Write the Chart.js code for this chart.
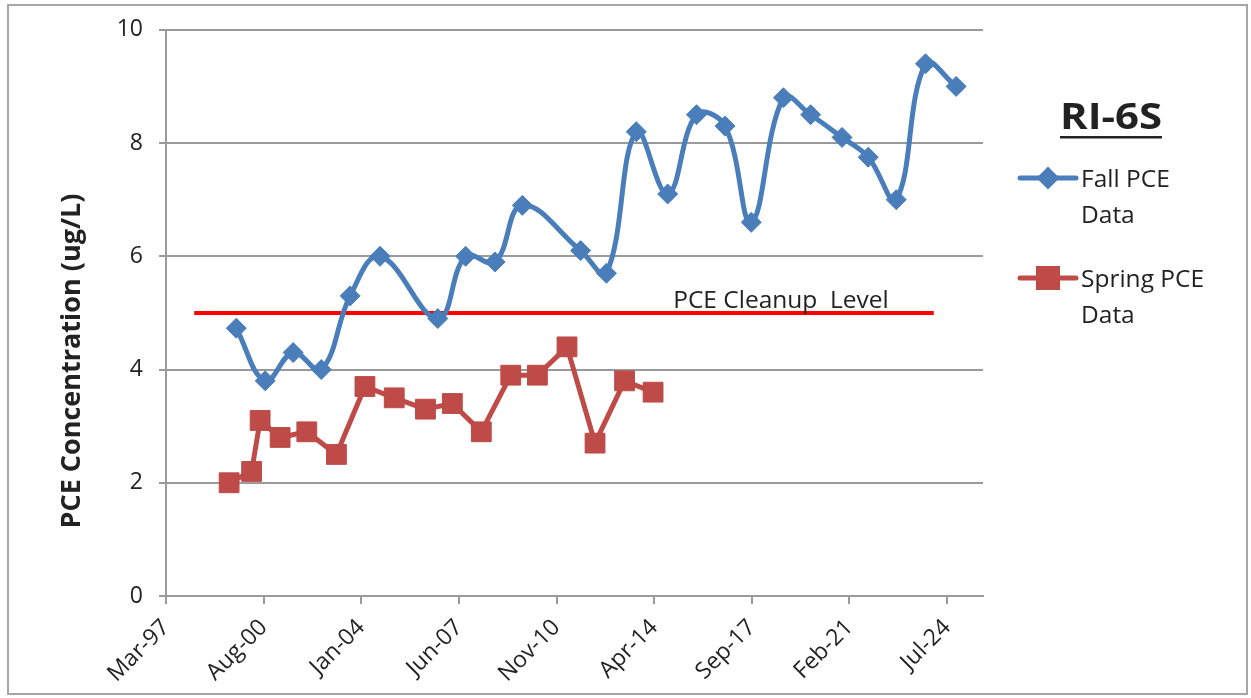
<!DOCTYPE html>
<html>
<head>
<meta charset="utf-8">
<script src="https://cdn.jsdelivr.net/npm/chart.js@4.4.0/dist/chart.umd.min.js"></script>
<style>
    body { margin: 0; background: #fff; }
    #wrap { position: relative; width: 1251px; height: 698px; }
    #frame { position: absolute; left: 7px; top: 4px; width: 1241px; height: 691px; border: 2px solid #a6a6a6; box-sizing: border-box; pointer-events: none; }
</style>
</head>
<body>
<div id="wrap">
    <canvas id="myChart" width="1251" height="698"></canvas>
    <div id="frame"></div>
</div>
<script>
// data
const xTickLabels = ['Mar-97', 'Aug-00', 'Jan-04', 'Jun-07', 'Nov-10', 'Apr-14', 'Sep-17', 'Feb-21', 'Jul-24'];
const xTickStep = 1250; // days between the date ticks

const fallDates = [
    '1999-08-18', '2000-08-22', '2001-08-15', '2002-08-10', '2003-08-15', '2004-09-01',
    '2006-09-10', '2007-09-01', '2008-09-12', '2009-08-28', '2011-09-12', '2012-08-08',
    '2013-08-25', '2014-10-01', '2015-10-05', '2016-10-05', '2017-09-05', '2018-10-22',
    '2019-10-05', '2020-11-10', '2021-10-12', '2022-10-05', '2023-10-15', '2024-11-10'
];
const fallPCE = [4.73, 3.8, 4.3, 4.0, 5.3, 6.0, 4.9, 6.0, 5.9, 6.9, 6.1, 5.7,
    8.2, 7.1, 8.5, 8.3, 6.6, 8.8, 8.5, 8.1, 7.75, 7.0, 9.4, 9.0];

const springDates = [
    '1999-05-18', '2000-03-01', '2000-06-18', '2001-03-01', '2002-02-06', '2003-02-20',
    '2004-02-20', '2005-03-01', '2006-04-05', '2007-03-15', '2008-03-20', '2009-04-01',
    '2010-03-08', '2011-03-22', '2012-03-15', '2013-03-28', '2014-03-28'
];
const springPCE = [2.0, 2.2, 3.1, 2.8, 2.9, 2.5, 3.7, 3.5, 3.3, 3.4, 2.9, 3.9, 3.9, 4.4, 2.7, 3.8, 3.6];

const cleanupLevel = 5;
const cleanupDates = ['1998-02-25', '2024-01-29'];
const cleanupLabel = 'PCE Cleanup  Level';
const cleanupLabelDate = '2014-12-10';

const axisOrigin = '1997-03-01';
const axisEnd = '2025-10-20';

function toDays(s) {
    return (Date.parse(s) - Date.parse(axisOrigin)) / 86400000;
}

function toPoints(dates, values) {
    return dates.map(function (d, k) {
        return { x: toDays(d), y: values[k] };
    });
}

const blue = '#4A7EBB';
const red = '#BE4B48';
const textColor = '#222';
const gridColor = '#9a9a9a';
const fontFamily = "'Open Sans', 'Noto Sans', sans-serif";

const extras = {
    id: 'extras',
    afterDraw(chart) {
        const ctx = chart.ctx;
        const xs = chart.scales.x;
        const ys = chart.scales.y;
        ctx.save();
        ctx.fillStyle = textColor;

        // cleanup label
        ctx.font = '24.5px ' + fontFamily;
        ctx.textAlign = 'left';
        ctx.textBaseline = 'alphabetic';
        ctx.fillText(cleanupLabel, xs.getPixelForValue(toDays(cleanupLabelDate)), ys.getPixelForValue(cleanupLevel) - 5);

        // y axis title
        ctx.save();
        ctx.translate(72, 361);
        ctx.rotate(-Math.PI / 2);
        ctx.font = 'bold 27px ' + fontFamily;
        ctx.textAlign = 'center';
        ctx.textBaseline = 'middle';
        ctx.fillText('PCE Concentration (ug/L)', 0, 0);
        ctx.restore();

        // title
        ctx.font = 'bold 36px ' + fontFamily;
        ctx.textAlign = 'center';
        ctx.textBaseline = 'alphabetic';
        const w = ctx.measureText('RI-6S').width;
        ctx.save();
        ctx.translate(1111, 129);
        ctx.scale(102 / w, 1);
        ctx.fillText('RI-6S', 0, 0);
        ctx.restore();
        ctx.fillRect(1060, 136, 102, 2.5);

        // legend
        const items = [
            { color: blue, style: 'rectRot', radius: 8, y: 178, lines: ['Fall PCE', 'Data'] },
            { color: red, style: 'rect', radius: 13.5, y: 278, lines: ['Spring PCE', 'Data'] }
        ];
        ctx.font = '24.5px ' + fontFamily;
        ctx.textAlign = 'left';
        for (let it of items) {
            ctx.strokeStyle = it.color;
            ctx.lineWidth = 5;
            ctx.lineCap = 'round';
            ctx.beginPath();
            ctx.moveTo(1020, it.y);
            ctx.lineTo(1076, it.y);
            ctx.stroke();
            ctx.fillStyle = it.color;
            Chart.helpers.drawPoint(ctx, { pointStyle: it.style, radius: it.radius, borderWidth: 1 }, 1048, it.y);
            ctx.fill();
            ctx.fillStyle = textColor;
            ctx.fillText(it.lines[0], 1081, it.y + 9);
            ctx.fillText(it.lines[1], 1081, it.y + 45);
        }
        ctx.restore();
    }
};

const ctx = document.getElementById('myChart').getContext('2d');
const myChart = new Chart(ctx, {
    type: 'line',
    data: {
        datasets: [{
            label: 'Fall PCE Data',
            data: toPoints(fallDates, fallPCE),
            borderColor: blue,
            backgroundColor: blue,
            borderWidth: 5,
            pointStyle: 'rectRot',
            pointRadius: 10,
            pointBorderWidth: 1,
            tension: 0.4
        }, {
            label: 'Spring PCE Data',
            data: toPoints(springDates, springPCE),
            borderColor: red,
            backgroundColor: red,
            borderWidth: 5,
            pointStyle: 'rect',
            pointRadius: 14,
            pointBorderWidth: 1,
            tension: 0
        }, {
            label: 'PCE Cleanup Level',
            data: cleanupDates.map(function (d) { return { x: toDays(d), y: cleanupLevel }; }),
            borderColor: '#ff0000',
            borderWidth: 4,
            pointRadius: 0,
            tension: 0
        }]
    },
    options: {
        responsive: false,
        animation: false,
        devicePixelRatio: 1,
        layout: { padding: { left: 0, top: 28, right: 268, bottom: 0 } },
        plugins: {
            legend: { display: false },
            tooltip: { enabled: false }
        },
        scales: {
            x: {
                type: 'linear',
                bounds: 'data',
                min: 0,
                max: toDays(axisEnd),
                afterFit: function (scale) { scale.height = 102; },
                afterBuildTicks: function (scale) {
                    scale.ticks = xTickLabels.map(function (l, k) { return { value: k * xTickStep }; });
                },
                grid: { drawOnChartArea: false, color: gridColor, lineWidth: 2, tickLength: 8 },
                border: { color: gridColor, width: 2 },
                ticks: {
                    autoSkip: false,
                    maxRotation: 45,
                    minRotation: 45,
                    padding: 10,
                    color: textColor,
                    font: { family: fontFamily, size: 23 },
                    callback: function (value, index) { return xTickLabels[index]; }
                }
            },
            y: {
                min: 0,
                max: 10,
                afterFit: function (scale) { scale.width = 166; },
                grid: { color: gridColor, lineWidth: 2, tickLength: 7 },
                border: { color: gridColor, width: 2 },
                ticks: {
                    stepSize: 2,
                    padding: 16,
                    color: textColor,
                    font: { family: fontFamily, size: 23 }
                }
            }
        }
    },
    plugins: [extras]
});
</script>
</body>
</html>
